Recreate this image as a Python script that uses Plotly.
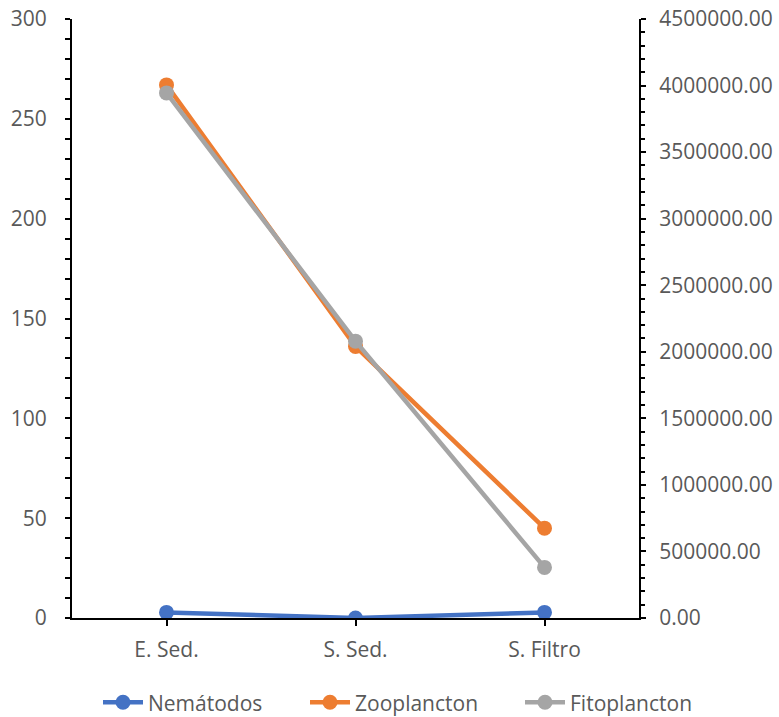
import plotly.graph_objects as go

categories = ["E. Sed.", "S. Sed.", "S. Filtro"]
nematodos = [2.8, 0.0, 2.8]
zooplancton = [267, 136, 45]
fitoplancton = [3945000, 2080000, 380000]

left_range = [0, 300]
right_range = [0, 4500000]

FONT = "Open Sans"
TXT = "#595959"
FS = 21

fig = go.Figure()
fig.add_trace(go.Scatter(x=categories, y=nematodos, name="Nemátodos", mode="lines+markers",
                         line=dict(color="#4472C4", width=4.5), marker=dict(size=15, color="#4472C4"),
                         yaxis="y", legend="legend"))
fig.add_trace(go.Scatter(x=categories, y=zooplancton, name="Zooplancton", mode="lines+markers",
                         line=dict(color="#ED7D31", width=4.5), marker=dict(size=15, color="#ED7D31"),
                         yaxis="y", legend="legend2"))
fig.add_trace(go.Scatter(x=categories, y=fitoplancton, name="Fitoplancton", mode="lines+markers",
                         line=dict(color="#A5A5A5", width=4.5), marker=dict(size=15, color="#A5A5A5"),
                         yaxis="y2", legend="legend3"))

def leg(xpx):
    return dict(orientation="h", xref="container", yref="container", x=xpx / 779, xanchor="left",
                y=0.02, yanchor="middle", font=dict(size=FS, color=TXT), itemwidth=40,
                bgcolor="rgba(0,0,0,0)")

fig.update_layout(
    width=779, height=717,
    margin=dict(l=72, r=140, t=19, b=99, autoexpand=False),
    paper_bgcolor="white", plot_bgcolor="white",
    font=dict(family=FONT, size=FS, color=TXT),
    showlegend=True,
    legend=leg(98), legend2=leg(305), legend3=leg(520),
    xaxis=dict(type="category", range=[-0.5, 2.5], showline=True, linecolor="black", linewidth=2,
               ticks="outside", ticklen=6, tickcolor="black", tickwidth=1.5, showgrid=False,
               zeroline=False, ticklabelstandoff=6, automargin=False,
               tickfont=dict(size=FS, color=TXT)),
    yaxis=dict(range=left_range, dtick=50, showline=True, linecolor="black", linewidth=2,
               ticks="outside", ticklen=5, tickcolor="black", tickwidth=2, showgrid=False,
               zeroline=False, ticklabelstandoff=14, automargin=False,
               tickfont=dict(size=FS, color=TXT),
               minor=dict(dtick=10, ticks="outside", ticklen=5, tickcolor="black", tickwidth=2,
                          showgrid=False)),
    yaxis2=dict(range=right_range, dtick=500000, tickformat=".2f", overlaying="y", side="right",
                showline=True, linecolor="black", linewidth=2, automargin=False,
                ticks="outside", ticklen=5, tickcolor="black", tickwidth=2, showgrid=False,
                zeroline=False, ticklabelstandoff=9, tickfont=dict(size=FS, color=TXT),
                minor=dict(dtick=100000, ticks="outside", ticklen=4, tickcolor="black", tickwidth=2,
                           showgrid=False)),
)

fig.write_html("out.html")
